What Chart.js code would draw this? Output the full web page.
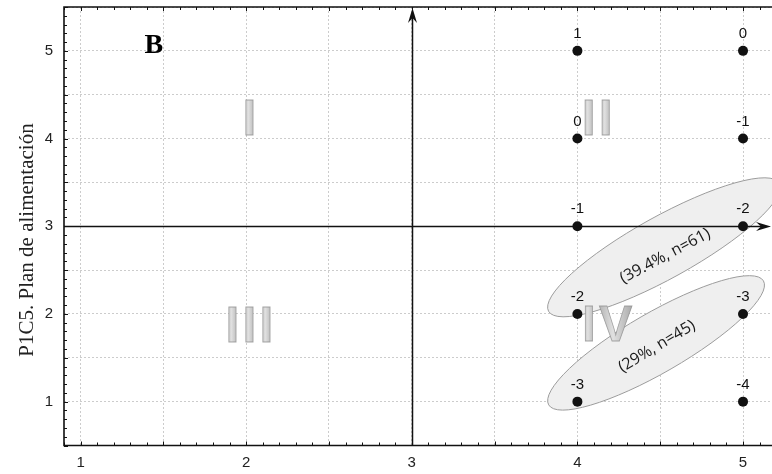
<!DOCTYPE html>
<html><head><meta charset="utf-8">
<script src="https://cdn.jsdelivr.net/npm/chart.js@4/dist/chart.umd.min.js"></script>
<style>html,body{margin:0;padding:0;background:#fff;}#wrap{width:772px;height:474px;}</style>
</head><body><div id="wrap"><canvas id="c" width="772" height="474"></canvas></div>
<script>
// ---- data ----
const xValues = [4, 5, 4, 5, 4, 5, 4, 5, 4, 5];
const yValues = [5, 5, 4, 4, 3, 3, 2, 2, 1, 1];
const pointLabels = ['1', '0', '0', '-1', '-1', '-2', '-2', '-3', '-3', '-4'];
const xTickLabels = ['1', '2', '3', '4', '5'];
const yTickLabels = ['1', '2', '3', '4', '5'];
const quadrantLabels = ['I', 'II', 'III', 'IV'];
const quadrantX = [2.02, 4.12, 2.02, 4.18];
const quadrantY = [4.25, 4.25, 1.88, 1.9];
const clusterLabels = ['(39.4%, n=61)', '(29%, n=45)'];
const clusterX = [4.523, 4.475];
const clusterY = [2.76, 1.67];
const clusterTextX = [4.53, 4.48];
const clusterTextY = [2.66, 1.63];
const panelLabel = 'B';
const yTitle = 'P1C5. Plan de alimentación';
const crossX = 3, crossY = 3;

// ---- styles (annotation geometry in pixels) ----
const ellipseStyle = [{rx: 132, ry: 31, angle: -29, textAngle: -28}, {rx: 124, ry: 30, angle: -30, textAngle: -31}];

function arrowHead(ctx, tipX, tipY, dirX, dirY) {
  const len = 15, half = 4.5, notch = 10;
  const px = -dirY, py = dirX;
  ctx.beginPath();
  ctx.moveTo(tipX, tipY);
  ctx.lineTo(tipX - dirX * len + px * half, tipY - dirY * len + py * half);
  ctx.lineTo(tipX - dirX * notch, tipY - dirY * notch);
  ctx.lineTo(tipX - dirX * len - px * half, tipY - dirY * len - py * half);
  ctx.closePath();
  ctx.fill();
}

const decor = {
  id: 'decor',
  beforeDatasetsDraw(chart) {
    const {ctx, chartArea: a, scales: {x, y}} = chart;
    ctx.save();
    ctx.beginPath(); ctx.rect(a.left, a.top, a.right - a.left, a.bottom - a.top); ctx.clip();
    // ellipses
    clusterX.forEach((cx, i) => {
      const s = ellipseStyle[i];
      ctx.beginPath();
      ctx.ellipse(x.getPixelForValue(cx), y.getPixelForValue(clusterY[i]), s.rx, s.ry, s.angle * Math.PI / 180, 0, Math.PI * 2);
      ctx.fillStyle = '#efefef';
      ctx.fill();
      ctx.strokeStyle = '#9c9c9c';
      ctx.lineWidth = 1;
      ctx.stroke();
    });
    // quadrant numerals
    ctx.font = 'bold 50px "Liberation Sans", Arial, sans-serif';
    ctx.textBaseline = 'alphabetic';
    ctx.textAlign = 'left';
    const spacing = 3.1;
    quadrantLabels.forEach((lab, i) => {
      const chars = lab.split('');
      const widths = chars.map(c => ctx.measureText(c).width);
      const total = widths.reduce((p, w) => p + w, 0) + spacing * (chars.length - 1);
      let px = x.getPixelForValue(quadrantX[i]) - total / 2;
      const base = y.getPixelForValue(quadrantY[i]) + 18;
      chars.forEach((c, k) => {
        const g = ctx.createLinearGradient(px, 0, px + widths[k], 0);
        g.addColorStop(0, '#b4b4b4');
        g.addColorStop(0.42, '#e0e0e0');
        g.addColorStop(1, '#aaaaaa');
        ctx.fillStyle = g;
        ctx.fillText(c, px, base);
        ctx.strokeStyle = 'rgba(140,140,140,0.75)';
        ctx.lineWidth = 0.8;
        ctx.strokeText(c, px, base);
        px += widths[k] + spacing;
      });
    });
    ctx.restore();

    // cross axes
    ctx.save();
    ctx.strokeStyle = '#111'; ctx.fillStyle = '#111'; ctx.lineWidth = 1.5;
    const vx = Math.round(x.getPixelForValue(crossX)) + 0.5;
    const hy = Math.round(y.getPixelForValue(crossY)) + 0.5;
    ctx.beginPath(); ctx.moveTo(vx, a.bottom); ctx.lineTo(vx, a.top + 6); ctx.stroke();
    arrowHead(ctx, vx, a.top + 1, 0, -1);
    ctx.beginPath(); ctx.moveTo(a.left, hy); ctx.lineTo(a.right - 7, hy); ctx.stroke();
    arrowHead(ctx, a.right - 1, hy, 1, 0);

    // frame (left, top, bottom)
    ctx.lineWidth = 1.6;
    ctx.beginPath();
    ctx.moveTo(a.right, a.top); ctx.lineTo(a.left, a.top); ctx.lineTo(a.left, a.bottom); ctx.lineTo(a.right, a.bottom);
    ctx.stroke();
    // minor ticks
    ctx.lineWidth = 1;
    ctx.beginPath();
    for (let k = 9; k <= 52; k++) {
      const v = k / 10;
      if (v < x.min || v > x.max) continue;
      const px = Math.round(x.getPixelForValue(v)) + 0.5;
      const len = (k % 5 === 0) ? 4 : 3;
      ctx.moveTo(px, a.bottom); ctx.lineTo(px, a.bottom - len);
      ctx.moveTo(px, a.top); ctx.lineTo(px, a.top + len);
    }
    for (let k = 5; k <= 55; k++) {
      const v = k / 10;
      const py = Math.round(y.getPixelForValue(v)) + 0.5;
      const len = (k % 5 === 0) ? 4 : 3;
      ctx.moveTo(a.left, py); ctx.lineTo(a.left + len, py);
    }
    ctx.stroke();
    ctx.restore();
  },
  afterDatasetsDraw(chart) {
    const {ctx, scales: {x, y}} = chart;
    ctx.save();
    // point labels
    ctx.font = '15px "Liberation Sans", Arial, sans-serif';
    ctx.fillStyle = '#111';
    ctx.textAlign = 'center';
    ctx.textBaseline = 'alphabetic';
    const meta = chart.getDatasetMeta(0);
    meta.data.forEach((pt, i) => {
      ctx.fillText(pointLabels[i], pt.x, pt.y - 13);
    });
    // cluster texts
    ctx.font = '16px "Open Sans", sans-serif';
    ctx.fillStyle = '#1a1a1a';
    ctx.textBaseline = 'middle';
    clusterLabels.forEach((t, i) => {
      ctx.save();
      ctx.translate(x.getPixelForValue(clusterTextX[i]), y.getPixelForValue(clusterTextY[i]));
      ctx.rotate(ellipseStyle[i].textAngle * Math.PI / 180);
      ctx.fillText(t, 0, 0);
      ctx.restore();
    });
    // panel label
    ctx.font = 'bold 28px "Liberation Serif", "Times New Roman", serif';
    ctx.fillStyle = '#000';
    ctx.textBaseline = 'alphabetic';
    ctx.fillText(panelLabel, x.getPixelForValue(1.443), y.getPixelForValue(4.97));
    // y title
    ctx.font = '21px "Liberation Serif", "Times New Roman", serif';
    ctx.fillStyle = '#222';
    ctx.textBaseline = 'middle';
    ctx.translate(27, 240);
    ctx.rotate(-Math.PI / 2);
    ctx.fillText(yTitle, 0, 0);
    ctx.restore();
  }
};

const tickFont = {family: '"Liberation Sans", Arial, sans-serif', size: 15};
function zeroPad(s) { s.paddingTop = 0; s.paddingBottom = 0; s.paddingLeft = 0; s.paddingRight = 0; }

new Chart(document.getElementById('c'), {
  type: 'scatter',
  data: {
    datasets: [{
      data: xValues.map((v, i) => ({x: v, y: yValues[i]})),
      pointRadius: 5, pointHoverRadius: 5,
      backgroundColor: '#111', borderColor: '#111', borderWidth: 0
    }]
  },
  options: {
    responsive: false, animation: false, events: [],
    layout: {autoPadding: false, padding: {left: 0, right: 0, top: 7, bottom: 0}},
    plugins: {legend: {display: false}, tooltip: {enabled: false}},
    scales: {
      x: {
        type: 'linear', min: 0.9, max: 5.175,
        afterFit(s) { s.height = 28.5; zeroPad(s); },
        ticks: {
          stepSize: 0.5, includeBounds: false, autoSkip: false, maxRotation: 0, padding: 8,
          color: '#222', font: tickFont,
          callback(v) { return Number.isInteger(v) ? xTickLabels[v - 1] : ''; }
        },
        grid: {color: '#cccccc', lineWidth: 1, drawTicks: false},
        border: {display: false, dash: [2, 2]}
      },
      y: {
        type: 'linear', min: 0.5, max: 5.5,
        afterFit(s) { s.width = 64; zeroPad(s); },
        ticks: {
          stepSize: 0.5, includeBounds: false, autoSkip: false, padding: 11,
          color: '#222', font: tickFont,
          callback(v) { return Number.isInteger(v) ? yTickLabels[v - 1] : ''; }
        },
        grid: {color: '#cccccc', lineWidth: 1, drawTicks: false},
        border: {display: false, dash: [2, 2]}
      }
    }
  },
  plugins: [decor]
});
</script>
</body></html>
